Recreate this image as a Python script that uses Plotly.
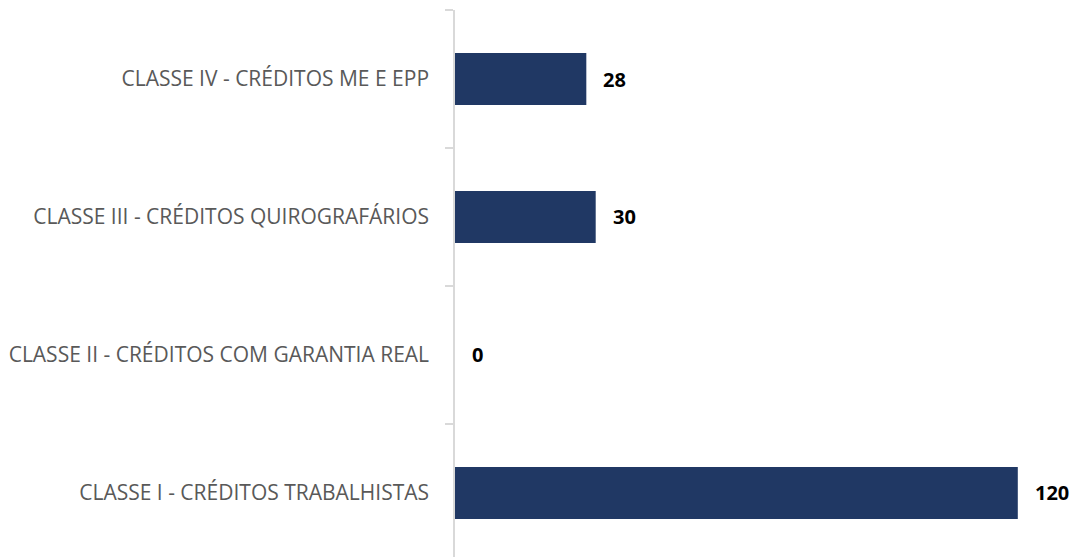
import plotly.graph_objects as go

categories = [
    "CLASSE I - CRÉDITOS TRABALHISTAS",
    "CLASSE II - CRÉDITOS COM GARANTIA REAL",
    "CLASSE III - CRÉDITOS QUIROGRAFÁRIOS",
    "CLASSE IV - CRÉDITOS ME E EPP",
]
values = [120, 0, 30, 28]
value_labels = ["120", "0", "30", "28"]

BAR = "#203864"
FONT = "Open Sans"

fig = go.Figure()
fig.add_trace(go.Bar(
    y=categories,
    x=values,
    orientation="h",
    width=0.377,
    marker=dict(color=BAR, line=dict(width=0)),
    hoverinfo="skip",
))

for c, v, t in zip(categories, values, value_labels):
    fig.add_annotation(
        x=v, y=c, text=t, showarrow=False,
        xanchor="left", yanchor="middle", xshift=15,
        font=dict(family=FONT, size=20, color="#000000", weight="bold"),
    )

fig.update_layout(
    width=1076, height=557,
    margin=dict(l=455, r=0, t=10, b=0),
    paper_bgcolor="white", plot_bgcolor="white",
    showlegend=False,
    font=dict(family=FONT),
    xaxis=dict(range=[0, 621 / 4.69], visible=False, showgrid=False, zeroline=False, fixedrange=True),
    yaxis=dict(
        type="category",
        categoryorder="array", categoryarray=categories,
        range=[-0.464, 3.5],
        showline=True, linecolor="#d9d9d9", linewidth=1.5,
        ticks="outside", tickson="boundaries", ticklen=8, tickcolor="#d9d9d9", tickwidth=1.5,
        showgrid=False, zeroline=False,
        tickfont=dict(family=FONT, size=21, color="#595959"),
        ticklabelstandoff=20,
        fixedrange=True,
    ),
)

fig.write_html(
    "out.html",
    config={"displayModeBar": False},
    post_script="document.body.style.margin='0';document.body.style.overflow='hidden';",
)
